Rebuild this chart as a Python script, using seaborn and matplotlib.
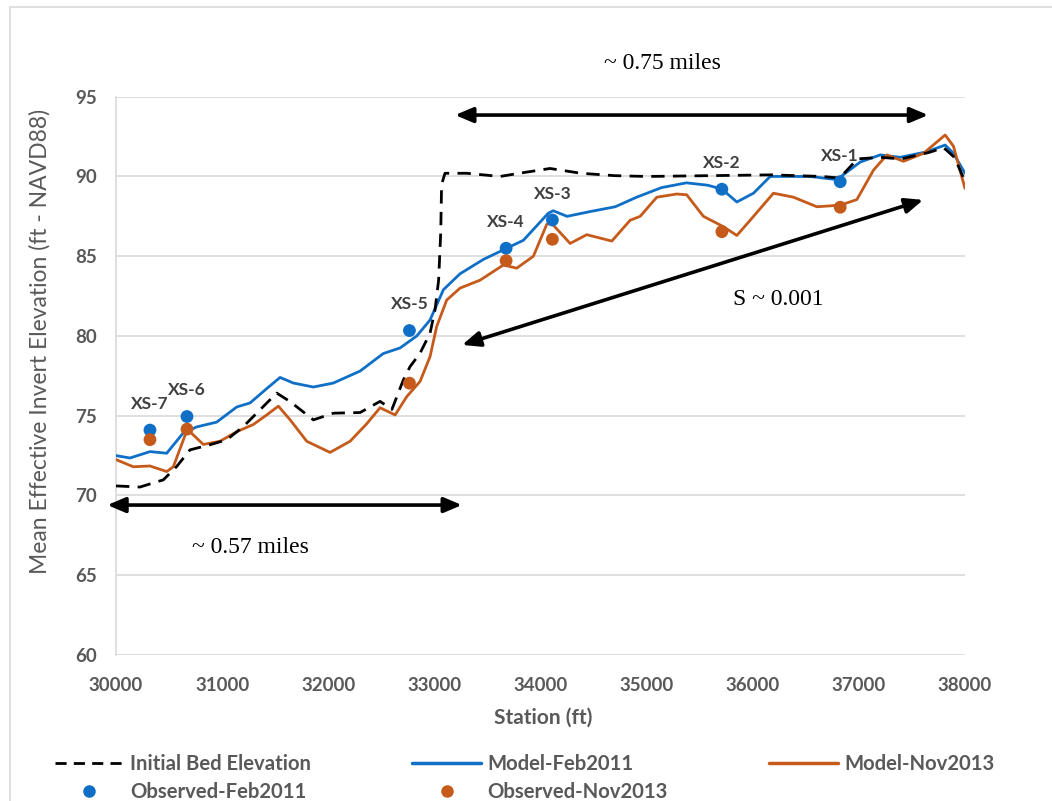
import matplotlib
matplotlib.use("Agg")
import matplotlib.pyplot as plt
from matplotlib.lines import Line2D
import seaborn as sns
import pandas as pd

# ---------------- data ----------------
bed_x = [30000, 30226, 30446, 30572, 30697, 30886, 31043, 31200, 31357, 31514,
         31640, 31860, 32048, 32300, 32488, 32600, 32708, 32771, 32865, 32959,
         33006, 33040, 33060, 33068, 33100, 33304, 33619, 33800, 34090, 34380,
         34700, 35000, 36180, 36650, 36820, 36986, 37200, 37400, 37657, 37800,
         37900, 38000]
bed_y = [70.6, 70.53, 70.98, 71.82, 72.86, 73.18, 73.49, 74.32, 75.37, 76.42,
         75.89, 74.74, 75.16, 75.2, 75.9, 75.4, 77.25, 78.08, 78.92, 80.17,
         81.63, 83.5, 86.5, 89.5, 90.2, 90.2, 90.0, 90.2, 90.5, 90.2,
         90.05, 90.0, 90.1, 90.0, 89.9, 91.1, 91.2, 91.1, 91.5, 91.8,
         91.2, 89.7]

feb_x = [30000, 30132, 30320, 30478, 30631, 30761, 30949, 31138, 31263, 31420,
         31546, 31671, 31860, 32048, 32300, 32519, 32677, 32834, 32959, 33085,
         33242, 33462, 33682, 33839, 34074, 34120, 34250, 34469, 34704, 34906,
         35140, 35375, 35577, 35711, 35850, 36007, 36164, 36541, 36792, 37012,
         37201, 37389, 37641, 37813, 37891, 38000]
feb_y = [72.5, 72.35, 72.75, 72.65, 73.9, 74.3, 74.6, 75.55, 75.8, 76.7,
         77.4, 77.05, 76.8, 77.05, 77.8, 78.9, 79.25, 80.0, 81.0, 82.9,
         83.9, 84.8, 85.5, 86.0, 87.7, 87.85, 87.5, 87.8, 88.1, 88.7,
         89.3, 89.6, 89.45, 89.2, 88.4, 88.95, 90.0, 90.0, 89.8, 90.9,
         91.35, 91.2, 91.55, 91.97, 91.45, 90.2]

nov_x = [30000, 30163, 30320, 30478, 30540, 30672, 30823, 30980, 31138, 31294,
         31420, 31530, 31640, 31797, 32017, 32206, 32363, 32488, 32630, 32740,
         32865, 32959, 33022, 33116, 33242, 33431, 33650, 33776, 33933, 34059,
         34100, 34279, 34436, 34672, 34844, 34939, 35096, 35284, 35378, 35535,
         35724, 35850, 35975, 36195, 36384, 36604, 36824, 36981, 37138, 37264,
         37420, 37609, 37813, 37891, 38000]
nov_y = [72.25, 71.8, 71.85, 71.5, 71.8, 74.15, 73.2, 73.4, 74.0, 74.45,
         75.05, 75.6, 74.75, 73.4, 72.7, 73.4, 74.5, 75.5, 75.05, 76.2,
         77.15, 78.7, 80.6, 82.25, 83.0, 83.5, 84.45, 84.25, 85.0, 87.0,
         87.1, 85.8, 86.35, 85.95, 87.25, 87.5, 88.7, 88.9, 88.85, 87.5,
         86.85, 86.3, 87.25, 88.95, 88.7, 88.1, 88.2, 88.55, 90.4, 91.35,
         90.95, 91.45, 92.6, 91.9, 89.25]

xs_names = ["XS-7", "XS-6", "XS-5", "XS-4", "XS-3", "XS-2", "XS-1"]
obs_x = [30320, 30669, 32765, 33676, 34112, 35709, 36824]
obs_feb = [74.1, 74.95, 80.34, 85.5, 87.27, 89.2, 89.67]
obs_nov = [73.5, 74.16, 77.04, 84.72, 86.06, 86.54, 88.07]

x_ticks = [30000, 31000, 32000, 33000, 34000, 35000, 36000, 37000, 38000]
y_ticks = [60, 65, 70, 75, 80, 85, 90, 95]

# annotations (arrows and texts)
arrow_top = [(33195, 93.85), (37653, 93.85)]
arrow_left = [(29918, 69.4), (33260, 69.4)]
arrow_slope = [(33261, 79.44), (37606, 88.53)]
txt_top = ("~ 0.75 miles", 35146, 97.1)
txt_left = ("~ 0.57 miles", 31263, 66.72)
txt_slope = ("S ~ 0.001", 36239, 82.26)

# ---------------- style ----------------
sns.set_theme(style="white")
plt.rcParams["font.family"] = ["Lato", "DejaVu Sans"]

BLUE = "#0F6FC6"
ORANGE = "#C55A1A"
GRAY_TXT = "#595959"
GRID = "#D9D9D9"

fig = plt.figure(figsize=(10.52, 8.01), dpi=100)
ax = fig.add_axes([116 / 1052, 1 - 655 / 801, 849 / 1052, 558.3 / 801])

bed_df = pd.DataFrame({"x": bed_x, "y": bed_y})
feb_df = pd.DataFrame({"x": feb_x, "y": feb_y})
nov_df = pd.DataFrame({"x": nov_x, "y": nov_y})
obs_df = pd.DataFrame({"x": obs_x, "feb": obs_feb, "nov": obs_nov, "name": xs_names})

sns.lineplot(data=feb_df, x="x", y="y", ax=ax, color=BLUE, lw=2.0,
             label="Model-Feb2011", sort=False, zorder=3)
sns.lineplot(data=nov_df, x="x", y="y", ax=ax, color=ORANGE, lw=2.0,
             label="Model-Nov2013", sort=False, zorder=3)
sns.lineplot(data=bed_df, x="x", y="y", ax=ax, color="black", lw=2.0,
             label="Initial Bed Elevation", sort=False, zorder=4,
             dashes=False)
ax.lines[-1].set_dashes((4.8, 3.0))
sns.scatterplot(data=obs_df, x="x", y="feb", ax=ax, color=BLUE, s=85,
                edgecolor="none", label="Observed-Feb2011", zorder=5)
sns.scatterplot(data=obs_df, x="x", y="nov", ax=ax, color=ORANGE, s=85,
                edgecolor="none", label="Observed-Nov2013", zorder=5)

for name, xv, yv in zip(obs_df["name"], obs_df["x"], obs_df["feb"]):
    ax.annotate(name, (xv, yv), xytext=(0, 13), textcoords="offset points",
                ha="center", va="bottom", fontsize=12.5, fontweight="bold",
                color="#404040", zorder=6)

# axes formatting
ax.set_xlim(30000, 38000)
ax.set_ylim(60, 95)
ax.set_xticks(x_ticks)
ax.set_yticks(y_ticks)
ax.yaxis.grid(True, color=GRID, lw=1.2)
ax.xaxis.grid(False)
ax.set_axisbelow(True)
for s in ["top", "right", "bottom"]:
    ax.spines[s].set_visible(False)
ax.spines["left"].set_color(GRID)
ax.spines["left"].set_linewidth(1.2)
ax.tick_params(axis="both", length=0, labelsize=13.5, labelcolor=GRAY_TXT)
ax.tick_params(axis="x", pad=16)
ax.tick_params(axis="y", pad=14)
for lab in ax.get_xticklabels() + ax.get_yticklabels():
    lab.set_fontweight("bold")

ax.set_xlabel("Station (ft)", fontsize=15, fontweight="bold", color=GRAY_TXT,
              va="center")
ax.xaxis.set_label_coords(0.503, -0.113)
ax.set_ylabel("Mean Effective Invert Elevation (ft - NAVD88)", fontsize=16.5,
              color=GRAY_TXT, va="center")
ax.yaxis.set_label_coords(-0.0895, 0.562)

# arrows
aprops = dict(arrowstyle="<|-|>,head_length=0.9,head_width=0.38", lw=2.6,
              color="black", shrinkA=0, shrinkB=0)
for a in (arrow_top, arrow_left, arrow_slope):
    ax.annotate("", xy=a[1], xytext=a[0], xycoords="data",
                arrowprops=aprops, annotation_clip=False, zorder=6)
for t, xv, yv in (txt_top, txt_left, txt_slope):
    ax.text(xv, yv, t, ha="center", va="center", fontsize=17,
            family=["Liberation Serif", "DejaVu Serif"], color="black",
            clip_on=False)

# legend
h, l = ax.get_legend_handles_labels()
ax.get_legend().remove()
order = ["Initial Bed Elevation", "Observed-Feb2011", "Model-Feb2011",
         "Observed-Nov2013", "Model-Nov2013"]
handles = [
    Line2D([], [], color="black", lw=2.0, dashes=(4.0, 2.6)),
    Line2D([], [], color=BLUE, marker="o", ls="none", markersize=8),
    Line2D([], [], color=BLUE, lw=2.5),
    Line2D([], [], color=ORANGE, marker="o", ls="none", markersize=8),
    Line2D([], [], color=ORANGE, lw=2.5),
]
leg = fig.legend(handles, order, loc="upper left",
                 bbox_to_anchor=(55 / 1052, 1 - 754 / 801), ncol=3,
                 frameon=False, borderaxespad=0, borderpad=0,
                 prop={"size": 14.6, "weight": "bold"},
                 handlelength=3.4, handletextpad=0.3,
                 columnspacing=5.0, labelspacing=0.38)
for t in leg.get_texts():
    t.set_color(GRAY_TXT)

# light frame lines of the original picture
fig.add_artist(Line2D([10 / 1052, 10 / 1052], [0, 1 - 7 / 801],
                      transform=fig.transFigure, color=GRID, lw=1.2))
fig.add_artist(Line2D([10 / 1052, 1], [1 - 7 / 801, 1 - 7 / 801],
                      transform=fig.transFigure, color=GRID, lw=1.2))

fig.savefig("out.png", dpi=100)
